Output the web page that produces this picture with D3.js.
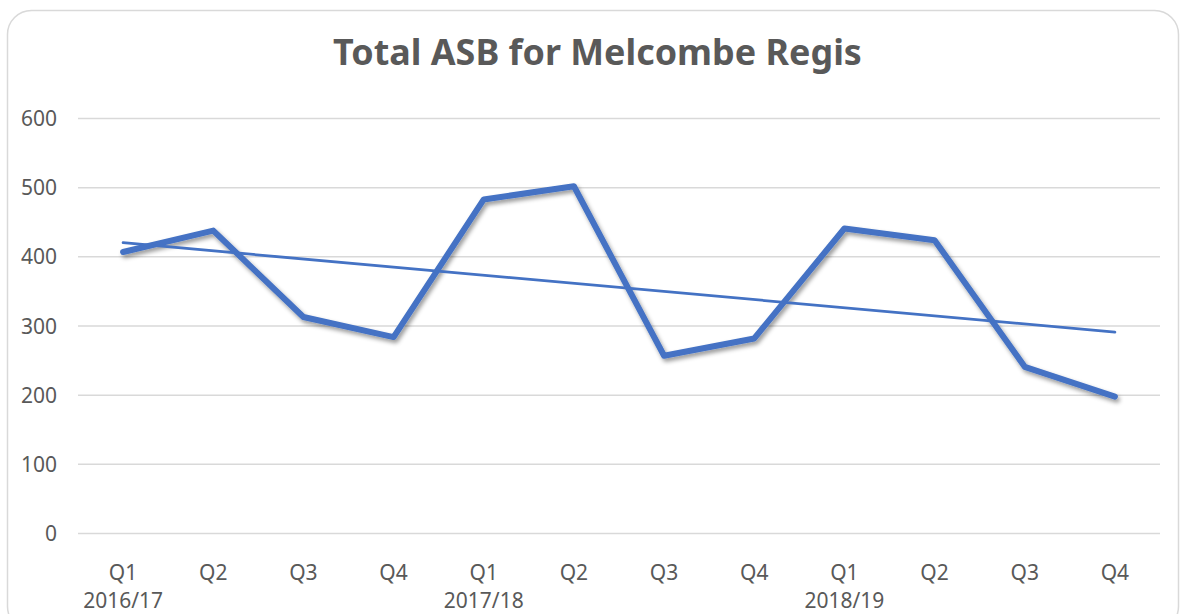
<!DOCTYPE html>
<html>
<head>
<meta charset="utf-8">
<script src="https://cdn.jsdelivr.net/npm/d3@7"></script>
<style>
  html, body { margin: 0; padding: 0; background: #ffffff; }
  svg { display: block; }
  text { font-family: "Noto Sans", "Open Sans", sans-serif; }
</style>
</head>
<body>
<svg id="chart" width="1183" height="614"></svg>
<script>
const title = "Total ASB for Melcombe Regis";
const quarters = ["Q1", "Q2", "Q3", "Q4", "Q1", "Q2", "Q3", "Q4", "Q1", "Q2", "Q3", "Q4"];
const years = ["2016/17", "", "", "", "2017/18", "", "", "", "2018/19", "", "", ""];
const asbValues = [407, 438, 313, 284, 483, 502, 257, 282, 441, 424, 241, 198];
const yTicks = [0, 100, 200, 300, 400, 500, 600];

const W = 1183, H = 614;
const margin = { left: 78, right: 23, top: 118.5, bottom: 80.5 };
const svg = d3.select("#chart");

// drop shadow filter
const defs = svg.append("defs");
const f = defs.append("filter").attr("id", "shadow").attr("x", "-10%").attr("y", "-10%").attr("width", "120%").attr("height", "130%");
f.append("feDropShadow").attr("dx", 2).attr("dy", 3).attr("stdDeviation", 2.2)
  .attr("flood-color", "#000").attr("flood-opacity", 0.4);

// chart border
svg.append("rect").attr("x", 7.5).attr("y", 10.5).attr("width", 1171).attr("height", 620)
  .attr("rx", 24).attr("ry", 24).attr("fill", "#fff").attr("stroke", "#d9d9d9").attr("stroke-width", 1.5);

const idx = d3.range(asbValues.length);
const x = d3.scalePoint().domain(idx).range([margin.left, W - margin.right]).padding(0.5);
const y = d3.scaleLinear().domain([0, 600]).range([H - margin.bottom, margin.top]);

// gridlines
svg.append("g").selectAll("line").data(yTicks).join("line")
  .attr("x1", margin.left).attr("x2", W - margin.right)
  .attr("y1", d => y(d)).attr("y2", d => y(d))
  .attr("stroke", "#d9d9d9").attr("stroke-width", 1.5);

// y labels
svg.append("g").selectAll("text").data(yTicks).join("text")
  .attr("x", 57).attr("y", d => y(d)).attr("dy", "0.36em")
  .attr("text-anchor", "end").attr("fill", "#595959").attr("font-size", 21)
  .text(d => d);

// x labels
const xl = svg.append("g");
xl.selectAll("text.q").data(idx).join("text").attr("class", "q")
  .attr("x", d => x(d)).attr("y", 580).attr("text-anchor", "middle")
  .attr("fill", "#595959").attr("font-size", 21).text(d => quarters[d]);
xl.selectAll("text.yr").data(idx.filter(i => years[i])).join("text").attr("class", "yr")
  .attr("x", d => x(d)).attr("y", 608).attr("text-anchor", "middle")
  .attr("fill", "#595959").attr("font-size", 21).text(d => years[d]);

// main line
const line = d3.line().x(d => x(d)).y(d => y(asbValues[d]));
svg.append("path").datum(idx).attr("d", line)
  .attr("fill", "none").attr("stroke", "#4472c4").attr("stroke-width", 6)
  .attr("stroke-linejoin", "round").attr("stroke-linecap", "round")
  .attr("filter", "url(#shadow)");

// linear trendline (least squares)
const mx = d3.mean(idx), my = d3.mean(asbValues);
const slope = d3.sum(idx, i => (i - mx) * (asbValues[i] - my)) / d3.sum(idx, i => (i - mx) ** 2);
const intercept = my - slope * mx;
const trend = [0, idx.length - 1];
svg.append("path").datum(trend)
  .attr("d", d3.line().x(d => x(d)).y(d => y(intercept + slope * d)))
  .attr("fill", "none").attr("stroke", "#4472c4").attr("stroke-width", 2.75)
  .attr("stroke-linecap", "round");

// title
const t = svg.append("text").attr("x", 597.5).attr("y", 65).attr("text-anchor", "middle")
  .attr("fill", "#595959").attr("font-size", 34).attr("font-weight", "bold").text(title);
const tw = t.node().getComputedTextLength();
t.attr("font-size", 34 * 529 / tw);
</script>
</body>
</html>
